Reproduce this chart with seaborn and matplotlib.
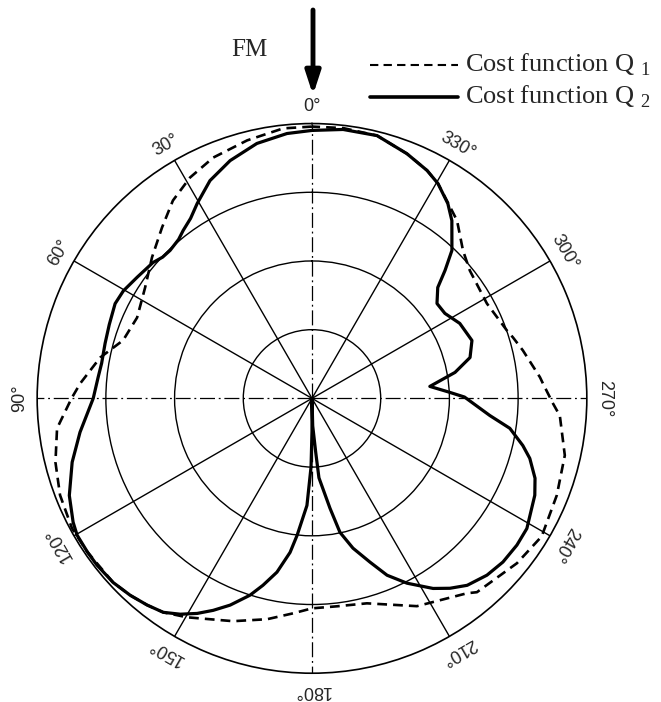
import numpy as np
import pandas as pd
import matplotlib.pyplot as plt
import seaborn as sns
from matplotlib.lines import Line2D

# polar readings: angle in degrees (0 = FM direction, counter-clockwise), radius relative to outer ring
q1_theta = [0, 6.1, 14.1, 22.3, 28.9, 35.1, 41.3, 48.6, 56.4, 65.2, 72.9, 79.1, 86.3, 90, 96.7,
            104, 111, 118.4, 124.4, 132.8, 137.3, 141.4, 145.2, 150.3, 160.5, 168.5, 175, 180, 187,
            195, 206.8, 218.5, 220.4, 231.2, 239, 248.4, 257.3, 266, 268.8, 273.7, 275.3, 282.8,
            286.9, 289.2, 298.5, 309, 314.4, 320.8, 325.1, 329.6, 333.2, 338.8, 346.1, 353.4, 360]
q1_r = [0.989, 0.988, 0.968, 0.947, 0.918, 0.88, 0.827, 0.776, 0.729, 0.701, 0.719, 0.785, 0.845,
        0.875, 0.934, 0.962, 0.982, 0.993, 0.99, 0.986, 0.975, 0.962, 0.948, 0.917, 0.86, 0.82,
        0.785, 0.764, 0.762, 0.772, 0.847, 0.906, 0.926, 0.957, 0.975, 0.958, 0.943, 0.904, 0.877,
        0.842, 0.833, 0.787, 0.764, 0.751, 0.724, 0.739, 0.769, 0.835, 0.866, 0.906, 0.929, 0.955,
        0.985, 0.99, 0.989]

q2_theta = [0, 5.4, 12.2, 19, 25.1, 30.5, 34, 37.5, 40, 43.8, 46.6, 49.5, 55.3, 60.3, 64.3, 70,
            75.1, 80.5, 84.4, 90, 98.3, 104.9, 111.8, 117.4, 120.2, 124.4, 127.8, 132.8, 137.3,
            141.4, 145.2, 148.6, 151.9, 155, 158.4, 162.5, 165.3, 168.6, 171.9, 173.8, 177.3,
            179.2, 180, 180,
            180, 181.5, 184, 185, 189.3, 191.8, 195.3, 199.5, 203, 207.2, 212.5, 216, 219.7,
            224.7, 229.4, 234.4, 238.8, 246.5, 250.3, 254.6, 257.4, 261.4, 264.5, 270.5, 272.5,
            275.8, 280.3, 284.5, 289.9, 296.9, 302.6, 307.2, 311.4, 313.9, 316.6, 321.8, 325.1,
            329.6, 333.2, 338.8, 346.1, 353.4, 360]
q2_r = [0.975, 0.968, 0.949, 0.915, 0.875, 0.823, 0.79, 0.77, 0.755, 0.746, 0.748, 0.761, 0.774,
        0.79, 0.795, 0.785, 0.779, 0.776, 0.782, 0.796, 0.853, 0.903, 0.951, 0.979, 0.989, 0.99,
        0.99, 0.986, 0.975, 0.962, 0.948, 0.92, 0.887, 0.851, 0.809, 0.751, 0.703, 0.645, 0.566,
        0.501, 0.39, 0.25, 0.12, 0.0,
        0.0, 0.1, 0.2, 0.29, 0.405, 0.498, 0.565, 0.632, 0.699, 0.756, 0.82, 0.854, 0.884,
        0.905, 0.915, 0.917, 0.914, 0.884, 0.862, 0.822, 0.786, 0.728, 0.65, 0.555, 0.502,
        0.431, 0.529, 0.594, 0.619, 0.603, 0.574, 0.571, 0.61, 0.672, 0.741, 0.823, 0.864,
        0.906, 0.929, 0.955, 0.985, 0.985, 0.975]

ring_radii = [0.25, 0.5, 0.75]
spoke_angles = [30, 60, 120, 150, 210, 240, 300, 330]
axis_angles = [0, 90, 180, 270]
label_angles = list(range(0, 360, 30))

sns.set_style('white')
plt.rcParams['font.family'] = ['Liberation Sans', 'DejaVu Sans']
plt.rcParams['mathtext.fontset'] = 'custom'
plt.rcParams['mathtext.rm'] = 'Liberation Serif'

fig = plt.figure(figsize=(6.61, 7.02), dpi=100)
ax = fig.add_axes([0.056, 0.041, 0.832, 0.783], projection='polar')
ax.set_theta_zero_location('N')
ax.set_theta_direction(1)

df1 = pd.DataFrame({'theta': np.deg2rad(q1_theta), 'r': q1_r})
df2 = pd.DataFrame({'theta': np.deg2rad(q2_theta), 'r': q2_r})

sns.lineplot(data=df1, x='theta', y='r', sort=False, estimator=None, ax=ax,
             color='black', lw=1.9, linestyle=(0, (3.7, 2.3)))
sns.lineplot(data=df2, x='theta', y='r', sort=False, estimator=None, ax=ax,
             color='black', lw=2.3)

# grid: rings and spokes
ax.set_ylim(0, 1)
ax.set_yticks(ring_radii)
ax.set_yticklabels([])
ax.set_xticks([])
ax.yaxis.grid(True, color='black', lw=1.0)
ax.vlines(np.deg2rad(spoke_angles), 0, 1, colors='black', lw=1.0)
ax.vlines(np.deg2rad(axis_angles), 0, 1, colors='black', lw=0.9,
          linestyles=[(0, (12, 3, 1.5, 3))])
ax.spines['polar'].set_color('black')
ax.spines['polar'].set_linewidth(1.2)
ax.set_xlabel('')
ax.set_ylabel('')

for a in label_angles:
    ax.text(np.deg2rad(a), 1.063, f'{a}°', rotation=a, rotation_mode='anchor',
            ha='center', va='center', fontsize=13)

# FM arrow
fig.text(249 / 661, 1 - 50 / 702, 'FM', family='Liberation Serif', fontsize=18,
         ha='center', va='center')
ax.annotate('', xy=(313 / 661, 1 - 95 / 702), xytext=(313 / 661, 1 - 10 / 702),
            xycoords='figure fraction', textcoords='figure fraction',
            arrowprops=dict(arrowstyle='-|>,head_width=0.18,head_length=0.55',
                            mutation_scale=25, lw=3.5, color='black',
                            shrinkA=0, shrinkB=0))

# legend
fig.add_artist(Line2D([370 / 661, 458 / 661], [1 - 65 / 702] * 2, transform=fig.transFigure,
                      color='black', lw=1.5, linestyle=(0, (4, 2.5))))
fig.add_artist(Line2D([370 / 661, 458 / 661], [1 - 97 / 702] * 2, transform=fig.transFigure,
                      color='black', lw=2.6))
fig.text(465 / 661, 1 - 72 / 702, 'Cost function Q $_1$', family='Liberation Serif',
         fontsize=19, va='baseline')
fig.text(465 / 661, 1 - 104 / 702, 'Cost function Q $_2$', family='Liberation Serif',
         fontsize=19, va='baseline')

fig.savefig('out.png', dpi=100)
